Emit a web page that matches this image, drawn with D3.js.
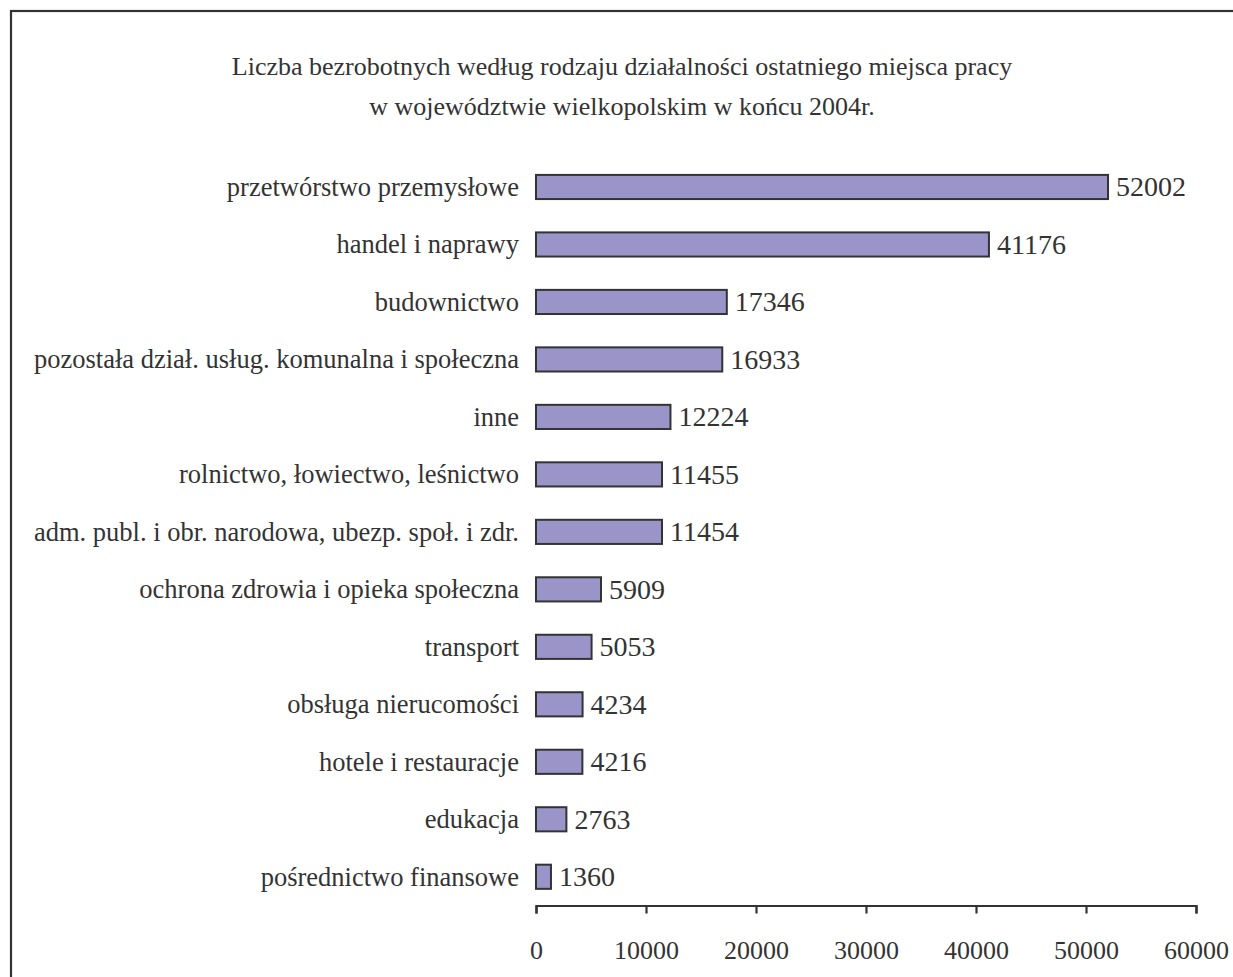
<!DOCTYPE html>
<html><head><meta charset="utf-8">
<script src="https://cdn.jsdelivr.net/npm/d3@7"></script>
<style>body{margin:0;background:#fff}svg{display:block}text{font-family:"Liberation Serif","Times New Roman",serif;fill:#333}</style>
</head><body>
<svg id="c" width="1233" height="977"></svg>
<script>
const categories = ["przetwórstwo przemysłowe","handel i naprawy","budownictwo","pozostała dział. usług. komunalna i społeczna","inne","rolnictwo, łowiectwo, leśnictwo","adm. publ. i obr. narodowa, ubezp. społ. i zdr.","ochrona zdrowia i opieka społeczna","transport","obsługa nierucomości","hotele i restauracje","edukacja","pośrednictwo finansowe"];
const values = [52002,41176,17346,16933,12224,11455,11454,5909,5053,4234,4216,2763,1360];
const tickValues = [0,10000,20000,30000,40000,50000,60000];
const titleLines = ["Liczba bezrobotnych według rodzaju działalności ostatniego miejsca pracy","w województwie wielkopolskim w końcu 2004r."];

const svg = d3.select("#c");
svg.append("rect").attr("x",11).attr("y",11).attr("width",1240).attr("height",990)
  .attr("fill","none").attr("stroke","#333").attr("stroke-width",2.2);

svg.append("g").selectAll("text").data(titleLines).join("text")
  .attr("x",622).attr("y",(d,i)=>75+i*40).attr("text-anchor","middle")
  .style("font-size","26px").text(d=>d);

const x = d3.scaleLinear().domain([0,60000]).range([536,1196]);
const y = d3.scaleBand().domain(categories).range([158.25,905.5]).paddingInner(0.58).paddingOuter(0.29);

svg.append("g").selectAll("rect").data(values).join("rect")
  .attr("x",x(0)).attr("y",(d,i)=>y(categories[i]))
  .attr("width",d=>x(d)-x(0)).attr("height",y.bandwidth())
  .attr("fill","#9b94c9").attr("stroke","#333").attr("stroke-width",2);

svg.append("g").selectAll("text").data(categories).join("text")
  .attr("x",519).attr("y",d=>y(d)+y.bandwidth()/2+9).attr("text-anchor","end")
  .style("font-size","26.5px").text(d=>d);

svg.append("g").selectAll("text").data(values).join("text")
  .attr("x",d=>x(d)+8).attr("y",(d,i)=>y(categories[i])+y.bandwidth()/2+9.5)
  .style("font-size","28px").text(d=>d);

const ax = svg.append("g").attr("transform","translate(0,905.5)")
  .call(d3.axisBottom(x).tickValues(tickValues).tickSize(8).tickPadding(27).tickFormat(d3.format("d")));
ax.select(".domain").attr("stroke","#333").attr("stroke-width",2.2);
ax.selectAll(".tick line").attr("stroke","#333").attr("stroke-width",2.2);
ax.selectAll(".tick text").style("font-size","26px").style("font-family","'Liberation Serif',serif").attr("fill","#333");
</script>
</body></html>
